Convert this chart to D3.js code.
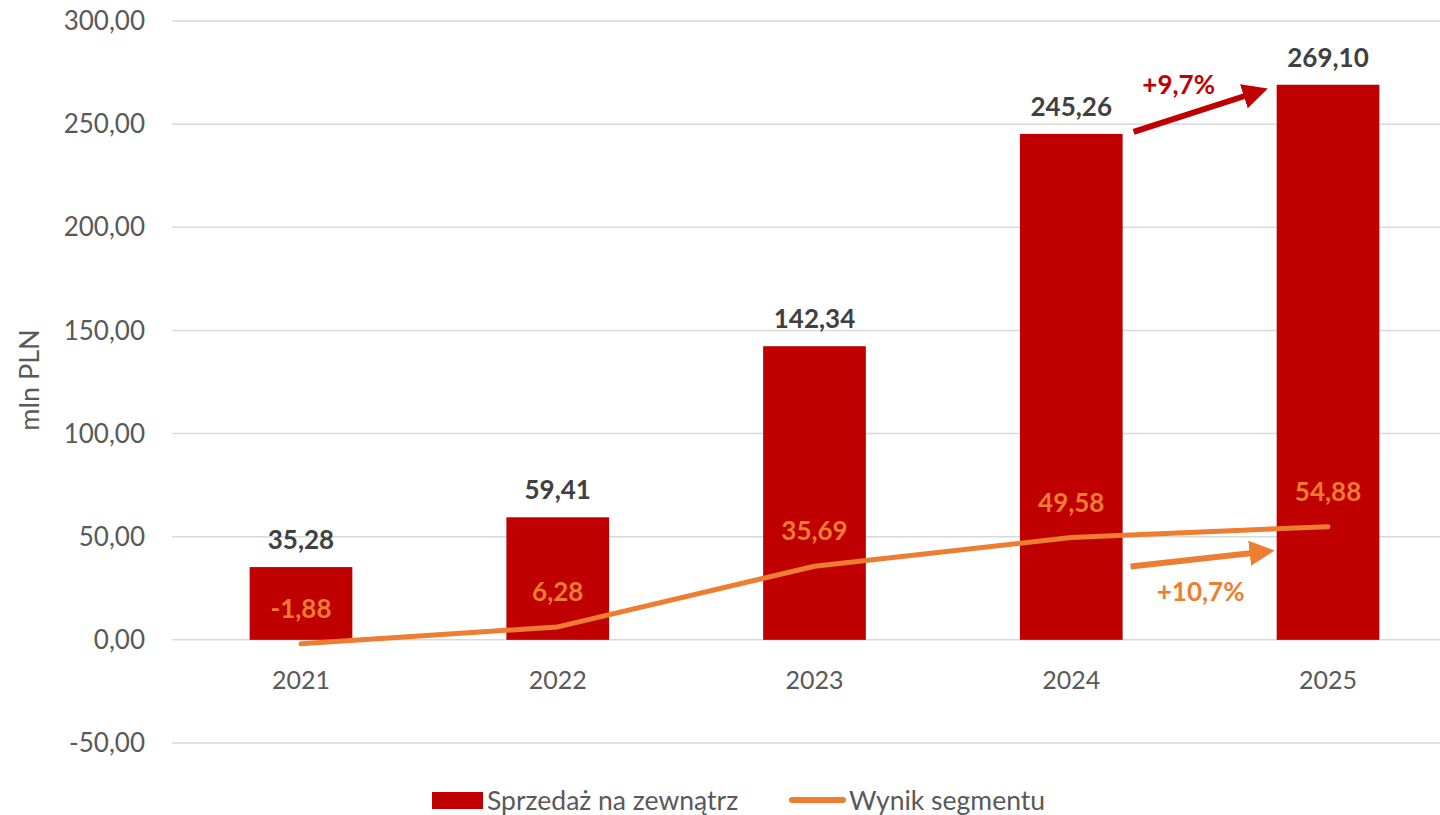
<!DOCTYPE html>
<html>
<head>
<meta charset="utf-8">
<title>Sprzedaż i wynik segmentu</title>
<script src="https://cdn.jsdelivr.net/npm/d3@7"></script>
<style>
body { margin: 0; background: #fff; }
svg { font-family: Lato, "Open Sans", sans-serif; }
.grid line { stroke: #d9d9d9; stroke-width: 1.5; }
.tick-label { fill: #595959; font-size: 26px; }
</style>
</head>
<body>
<div id="chart"></div>
<script>
// data
var years = ["2021", "2022", "2023", "2024", "2025"];
var sales = [35.28, 59.41, 142.34, 245.26, 269.10];     // Sprzedaż na zewnątrz
var result = [-1.88, 6.28, 35.69, 49.58, 54.88];        // Wynik segmentu
var yTicks = [-50, 0, 50, 100, 150, 200, 250, 300];
var seriesNames = ["Sprzedaż na zewnątrz", "Wynik segmentu"];
var growthLabels = ["+9,7%", "+10,7%"];

var width = 1440, height = 815;
var red = "#C00000", orange = "#ED7D31";

var fmt = function(v) { return v.toFixed(2).replace(".", ","); };

var svg = d3.select("#chart").append("svg")
    .attr("width", width)
    .attr("height", height);

var x = d3.scaleBand()
    .domain(years)
    .range([172.6, 1456.4])
    .paddingInner(0.6)
    .paddingOuter(0.3);

var y = d3.scaleLinear()
    .domain([-50, 300])
    .range([743, 21]);

// gridlines
svg.append("g").attr("class", "grid")
  .selectAll("line")
  .data(yTicks)
  .enter().append("line")
    .attr("x1", 172)
    .attr("x2", width)
    .attr("y1", function(d) { return y(d); })
    .attr("y2", function(d) { return y(d); });

// y tick labels
svg.append("g")
  .selectAll("text")
  .data(yTicks)
  .enter().append("text")
    .attr("class", "tick-label")
    .attr("x", 145)
    .attr("y", function(d) { return y(d); })
    .attr("dy", "0.35em")
    .attr("text-anchor", "end")
    .text(function(d) { return fmt(d); });

// y axis title
svg.append("text")
    .attr("transform", "translate(39," + 380 + ") rotate(-90)")
    .attr("text-anchor", "middle")
    .style("fill", "#595959")
    .style("font-size", "27px")
    .text("mln PLN");

// bars
svg.append("g")
  .selectAll("rect")
  .data(sales)
  .enter().append("rect")
    .attr("x", function(d, i) { return x(years[i]); })
    .attr("y", function(d) { return y(d); })
    .attr("width", x.bandwidth())
    .attr("height", function(d) { return y(0) - y(d); })
    .attr("fill", red);

// bar labels
svg.append("g")
  .selectAll("text")
  .data(sales)
  .enter().append("text")
    .attr("x", function(d, i) { return x(years[i]) + x.bandwidth() / 2; })
    .attr("y", function(d) { return y(d) - 18; })
    .attr("text-anchor", "middle")
    .style("font-size", "26px")
    .style("font-weight", "bold")
    .style("fill", "#404040")
    .text(function(d) { return fmt(d); });

// x labels
svg.append("g")
  .selectAll("text")
  .data(years)
  .enter().append("text")
    .attr("class", "tick-label")
    .attr("x", function(d) { return x(d) + x.bandwidth() / 2; })
    .attr("y", 689)
    .attr("text-anchor", "middle")
    .style("font-size", "25px")
    .text(function(d) { return d; });

// line
var cx = function(i) { return x(years[i]) + x.bandwidth() / 2; };
var line = d3.line()
    .x(function(d, i) { return cx(i); })
    .y(function(d) { return y(d); });

svg.append("path")
    .datum(result)
    .attr("d", line)
    .attr("fill", "none")
    .attr("stroke", orange)
    .attr("stroke-width", 5)
    .attr("stroke-linecap", "round")
    .attr("stroke-linejoin", "round");

// line labels
svg.append("g")
  .selectAll("text")
  .data(result)
  .enter().append("text")
    .attr("x", function(d, i) { return cx(i); })
    .attr("y", function(d) { return y(d) - 26; })
    .attr("text-anchor", "middle")
    .style("font-size", "26px")
    .style("font-weight", "bold")
    .style("fill", orange)
    .text(function(d) { return fmt(d); });

// growth arrows
var defs = svg.append("defs");
[["arrRed", red], ["arrOrange", orange]].forEach(function(m) {
  defs.append("marker")
      .attr("id", m[0])
      .attr("viewBox", "0 0 10 10")
      .attr("refX", 2).attr("refY", 5)
      .attr("markerWidth", 4.2).attr("markerHeight", 4.2)
      .attr("orient", "auto")
    .append("path")
      .attr("d", "M0,0L10,5L0,10Z")
      .attr("fill", m[1]);
});

var x4 = x("2024") + x.bandwidth(), x5 = x("2025");
svg.append("line")
    .attr("x1", x4 + 11).attr("y1", y(sales[3]) - 2)
    .attr("x2", x5 - 28).attr("y2", y(sales[4]) + 10)
    .attr("stroke", red).attr("stroke-width", 6)
    .attr("marker-end", "url(#arrRed)");
svg.append("text")
    .attr("x", (x4 + x5) / 2 - 21).attr("y", 94)
    .attr("text-anchor", "middle")
    .style("font-size", "26px").style("font-weight", "bold")
    .style("fill", red)
    .text(growthLabels[0]);

svg.append("line")
    .attr("x1", x4 + 8).attr("y1", y(result[3]) + 29)
    .attr("x2", x5 - 22).attr("y2", y(result[4]) + 26)
    .attr("stroke", orange).attr("stroke-width", 6)
    .attr("marker-end", "url(#arrOrange)");
svg.append("text")
    .attr("x", (x4 + x5) / 2 + 1).attr("y", 601)
    .attr("text-anchor", "middle")
    .style("font-size", "26px").style("font-weight", "bold")
    .style("fill", orange)
    .text(growthLabels[1]);

// legend
var lg = svg.append("g");
lg.append("rect")
    .attr("x", 432).attr("y", 792)
    .attr("width", 51).attr("height", 17)
    .attr("fill", red);
lg.append("text")
    .attr("x", 487).attr("y", 810)
    .style("font-size", "26.5px").style("fill", "#595959")
    .text(seriesNames[0]);
lg.append("line")
    .attr("x1", 792).attr("x2", 843)
    .attr("y1", 800).attr("y2", 800)
    .attr("stroke", orange).attr("stroke-width", 6)
    .attr("stroke-linecap", "round");
lg.append("text")
    .attr("x", 849).attr("y", 810)
    .style("font-size", "26.5px").style("fill", "#595959")
    .text(seriesNames[1]);
</script>
</body>
</html>
